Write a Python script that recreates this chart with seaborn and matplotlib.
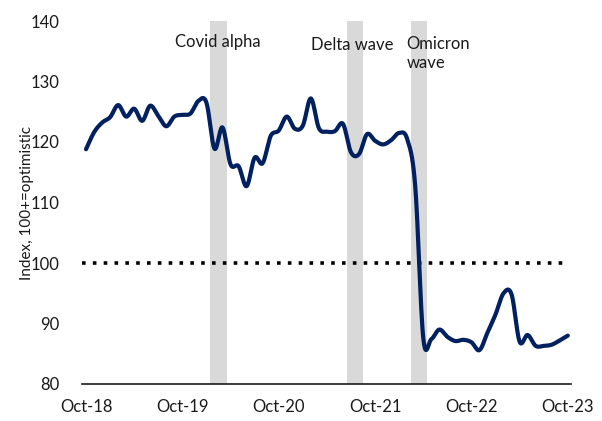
import numpy as np
import pandas as pd
import matplotlib
matplotlib.use("Agg")
import matplotlib.pyplot as plt
import seaborn as sns

# ---- data (monthly, Oct-18 .. Oct-23) ----
month_index = list(range(61))
index_values = [
    118.8, 121.6, 123.2, 124.1, 126.1, 124.2, 125.5, 123.5, 126.0, 124.3,
    122.6, 124.2, 124.5, 124.7, 126.8, 126.5, 118.9, 122.4, 116.3, 116.0,
    112.7, 117.4, 116.5, 121.0, 121.9, 124.2, 122.2, 122.7, 127.2, 122.3,
    121.7, 121.8, 123.0, 118.3, 118.0, 121.3, 120.2, 119.6, 120.3, 121.5,
    120.5, 112.7, 87.6, 87.4, 89.0, 87.8, 87.1, 87.3, 86.9, 85.6,
    88.5, 91.5, 95.0, 94.8, 87.0, 88.1, 86.3, 86.3, 86.5, 87.2,
    88.0,
]
tick_positions = [0, 12, 24, 36, 48, 60]
tick_labels = ["Oct-18", "Oct-19", "Oct-20", "Oct-21", "Oct-22", "Oct-23"]
band_labels = ["Covid alpha", "Delta wave", "Omicron\nwave"]
band_start_month = [16, 33, 41]
band_months = [2, 2, 2]
neutral_level = 100

# ---- smooth curve (Excel-like Bezier smoothing) ----
def smooth(xs, ys, n=20):
    xs = np.asarray(xs, float)
    ys = np.asarray(ys, float)
    P = np.column_stack([xs, ys])
    out = []
    for i in range(len(P) - 1):
        p0 = P[i - 1] if i > 0 else P[i]
        p1 = P[i]
        p2 = P[i + 1]
        p3 = P[i + 2] if i + 2 < len(P) else P[i + 1]
        c1 = p1 + (p2 - p0) / 6.0
        c2 = p2 - (p3 - p1) / 6.0
        t = np.linspace(0, 1, n, endpoint=(i == len(P) - 2))[:, None]
        seg = ((1 - t) ** 3) * p1 + 3 * ((1 - t) ** 2) * t * c1 + 3 * (1 - t) * t ** 2 * c2 + t ** 3 * p2
        out.append(seg)
    arr = np.vstack(out)
    return arr[:, 0], arr[:, 1]

sx, sy = smooth(month_index, index_values)
df = pd.DataFrame({"x": sx, "y": sy})

sns.set_theme(style="white")
plt.rcParams["font.family"] = ["Lato", "DejaVu Sans"]

fig = plt.figure(figsize=(6.02, 4.21), dpi=100)
ax = fig.add_axes([82 / 602, 1 - 384 / 421, (571 - 82) / 602, (384 - 21) / 421])

# shaded bands
for s, w in zip(band_start_month, band_months):
    ax.axvspan(s - 0.5, s - 0.5 + w, color="#D9D9D9", lw=0, zorder=0)

# 100 reference line
ax.hlines(neutral_level, -0.5, 59.5, colors="black", linestyles=(0, (1, 2)), lw=2.6, zorder=1)

sns.lineplot(data=df, x="x", y="y", ax=ax, color="#002060", lw=3.0, sort=False, zorder=3)

# band labels
ax.text(16.4, 136.5, band_labels[0], ha="center", va="center", fontsize=12, color="#1a1a1a")
ax.text(33.1, 136.1, band_labels[1], ha="center", va="center", fontsize=12, color="#1a1a1a")
ax.text(39.9, 134.6, band_labels[2], ha="left", va="center", fontsize=12, color="#1a1a1a",
        linespacing=1.25)

ax.set_xlim(-0.5, 60.4)
ax.set_ylim(80, 140)
ax.set_yticks(range(80, 141, 10))
ax.set_xticks(tick_positions)
ax.set_xticklabels(tick_labels)
ax.set_xlabel("")
ax.set_ylabel("Index, 100+=optimistic", fontsize=11, color="#1a1a1a", labelpad=-2)

for sp in ["top", "right", "left"]:
    ax.spines[sp].set_visible(False)
ax.spines["bottom"].set_color("#1a1a1a")
ax.spines["bottom"].set_linewidth(1.2)
ax.tick_params(axis="both", length=0, labelsize=12, colors="#1a1a1a")
ax.tick_params(axis="x", pad=11)
ax.tick_params(axis="y", pad=16)
ax.grid(False)

fig.savefig("out.png", dpi=100)
